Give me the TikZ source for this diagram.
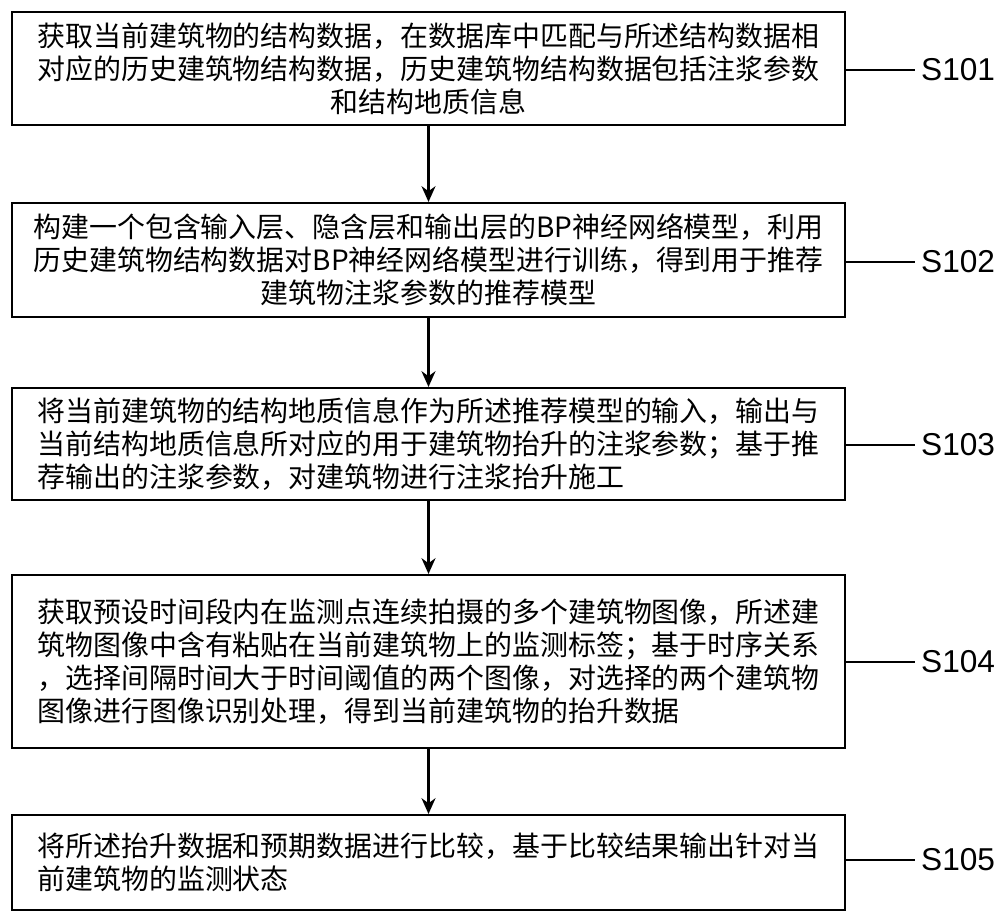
\documentclass[tikz,border=0pt]{standalone}
\usetikzlibrary{arrows.meta}
\usepackage{fontspec}
\setmainfont{Liberation Sans}
\newfontfamily\cjk{Noto Sans CJK SC}
\begin{document}
\begin{tikzpicture}[x=0.02cm,y=-0.02cm,
  stepbox/.style={draw,line width=1.2pt,minimum width=833*0.02cm,align=center,font=\cjk\fontsize{15.9}{18.8}\selectfont,inner sep=0pt},
  arr/.style={-{Stealth[length=9pt,width=8pt]},line width=1.2pt},
  lab/.style={font=\fontsize{18}{20}\selectfont,anchor=west}]
\useasboundingbox (0,0) rectangle (1000,919);
\node[stepbox,minimum height=113*0.02cm] (b1) at (428.5,68.5) {获取当前建筑物的结构数据，在数据库中匹配与所述结构数据相\\对应的历史建筑物结构数据，历史建筑物结构数据包括注浆参数\\和结构地质信息};
\node[stepbox,minimum height=114*0.02cm] (b2) at (428.5,260) {构建一个包含输入层、隐含层和输出层的BP神经网络模型，利用\\历史建筑物结构数据对BP神经网络模型进行训练，得到用于推荐\\建筑物注浆参数的推荐模型};
\node[stepbox,align=left,minimum height=112*0.02cm] (b3) at (428.5,444) {将当前建筑物的结构地质信息作为所述推荐模型的输入，输出与\\当前结构地质信息所对应的用于建筑物抬升的注浆参数；基于推\\荐输出的注浆参数，对建筑物进行注浆抬升施工};
\node[stepbox,align=left,minimum height=173*0.02cm] (b4) at (428.5,661.5) {获取预设时间段内在监测点连续拍摄的多个建筑物图像，所述建\\筑物图像中含有粘贴在当前建筑物上的监测标签；基于时序关系\\，选择间隔时间大于时间阈值的两个图像，对选择的两个建筑物\\图像进行图像识别处理，得到当前建筑物的抬升数据};
\node[stepbox,align=left,minimum height=95*0.02cm] (b5) at (428.5,862.5) {将所述抬升数据和预期数据进行比较，基于比较结果输出针对当\\前建筑物的监测状态};
\draw[arr] (b1) -- (b2);
\draw[arr] (b2) -- (b3);
\draw[arr] (b3) -- (b4);
\draw[arr] (b4) -- (b5);
\node[lab] (s1) at (915,70) {S101};
\node[lab] (s2) at (915,262) {S102};
\node[lab] (s3) at (915,445) {S103};
\node[lab] (s4) at (915,662) {S104};
\node[lab] (s5) at (915,860) {S105};
\foreach \i in {1,...,5} \draw[line width=1.2pt] (b\i.east |- s\i.west) -- (s\i.west);
\end{tikzpicture}
\end{document}
